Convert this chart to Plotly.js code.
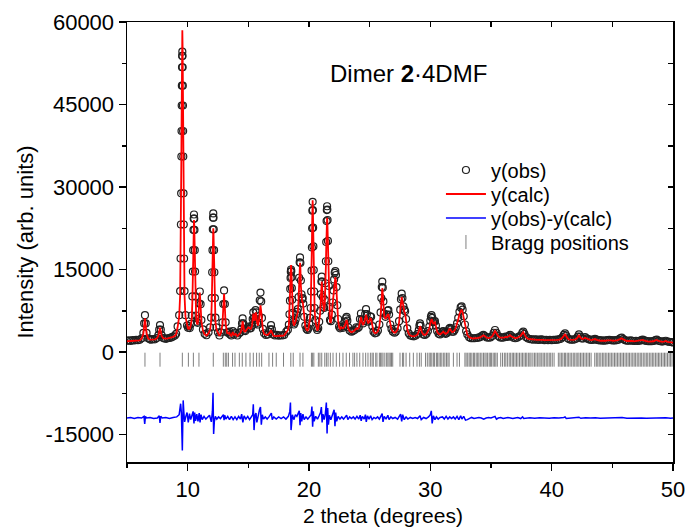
<!DOCTYPE html>
<html><head><meta charset="utf-8">
<script src="https://cdn.plot.ly/plotly-3.0.1.min.js"></script>
<style>html,body{margin:0;padding:0;background:#fff}#chart{width:688px;height:528px}</style>
</head><body><div id="chart"></div>
<script>
// 2-theta grid of the observed / calculated profile
const twoTheta = [
5.0,5.15,5.3,5.45,5.6,5.75,5.9,6.05,6.22,6.35,
6.415,6.48,6.545,6.61,6.74,6.88,7.0,7.15,7.3,7.46,
7.59,7.655,7.72,7.785,7.85,7.98,8.1,8.22,8.35,8.5,
8.65,8.8,8.95,9.05,9.17,9.3,9.38,9.417,9.443,9.463,
9.482,9.495,9.508,9.521,9.534,9.547,9.56,9.573,9.586,9.599,
9.612,9.625,9.638,9.657,9.677,9.703,9.74,9.82,9.95,10.03,
10.1,10.17,10.26,10.34,10.39,10.43,10.455,10.481,10.5,10.52,
10.54,10.559,10.585,10.61,10.65,10.7,10.76,10.82,10.87,10.935,
11.0,11.065,11.13,11.26,11.4,11.55,11.72,11.85,11.93,11.98,
12.02,12.045,12.071,12.09,12.11,12.13,12.149,12.175,12.2,12.24,
12.29,12.37,12.5,12.62,12.74,12.87,12.935,13.0,13.065,13.13,
13.26,13.36,13.44,13.5,13.6,13.72,13.82,13.95,14.1,14.25,
14.35,14.43,14.48,14.53,14.58,14.65,14.75,14.9,15.0,15.1,
15.2,15.3,15.36,15.41,15.47,15.53,15.6,15.66,15.73,15.8,
15.88,15.94,16.0,16.06,16.12,16.2,16.3,16.45,16.6,16.72,
16.8,16.87,16.94,17.05,17.2,17.35,17.5,17.65,17.8,17.95,
18.13,18.26,18.34,18.39,18.43,18.455,18.481,18.5,18.52,18.54,
18.559,18.585,18.61,18.65,18.7,18.76,18.83,18.9,18.96,19.02,
19.08,19.14,
19.19,19.23,19.26,19.29,19.33,19.38,19.44,19.48,19.53,19.6,
19.7,19.8,19.88,19.95,20.02,20.08,20.14,20.18,20.21,20.24,
20.26,20.28,20.3,20.32,20.34,20.36,20.39,20.42,20.46,20.52,
20.6,20.68,20.76,20.84,20.92,20.98,21.02,21.05,21.08,21.13,
21.19,21.25,21.3,21.35,21.39,21.42,21.45,21.47,21.49,21.51,
21.53,21.56,21.59,21.63,21.68,21.73,21.8,21.88,21.95,22.02,
22.07,22.12,22.17,22.22,22.27,22.33,22.4,22.48,22.56,22.64,
22.8,22.92,23.0,23.05,23.1,23.16,23.24,23.35,23.5,23.62,
23.75,23.9,24.0,24.1,24.2,24.28,24.36,24.45,24.55,24.63,
24.7,24.77,24.87,24.97,25.05,25.12,25.22,25.32,25.44,25.56,
25.68,25.8,25.9,25.96,26.0,26.04,26.08,26.13,26.2,26.3,
26.4,26.48,26.54,26.6,26.7,26.8,26.92,27.05,27.15,27.3,
27.42,27.52,27.58,27.64,27.7,27.78,27.86,27.92,28.0,28.1,
28.22,28.35,28.5,28.65,28.8,28.95,29.05,29.1,29.15,29.2,
29.3,29.42,29.55,29.68,29.8,29.92,30.0,30.05,30.1,30.16,
30.24,30.32,30.38,30.46,30.56,30.68,30.8,30.92,31.0,31.07,
31.15,31.25,31.35,31.45,31.55,31.62,31.7,31.8,31.9,32.0,
32.1,32.2,32.3,32.4,32.5,32.58,32.66,32.75,32.85,32.95,
33.05,33.2,33.35,33.5,33.65,33.8,33.95,34.1,34.25,34.37,
34.5,34.65,34.8,34.95,35.1,35.22,35.33,35.45,35.6,35.75,
35.9,36.05,36.2,36.35,36.45,36.57,36.7,36.85,37.0,37.15,
37.3,37.45,37.58,37.66,37.75,37.9,38.05,38.2,38.35,38.5,
38.65,38.8,38.95,39.1,39.25,39.4,39.55,39.7,39.85,40.0,
40.15,40.3,40.45,40.6,40.75,40.9,41.0,41.1,41.2,41.32,
41.45,41.6,41.75,41.9,42.05,42.15,42.25,42.35,42.48,42.6,
42.75,42.88,43.0,43.15,43.3,43.45,43.57,43.7,43.85,44.0,
44.15,44.3,44.45,44.6,44.75,44.9,45.05,45.2,45.35,45.5,
45.65,45.77,45.9,46.05,46.2,46.35,46.5,46.65,46.8,46.95,
47.1,47.25,47.4,47.5,47.65,47.8,47.95,48.1,48.25,48.4,
48.55,48.66,48.8,48.95,49.1,49.25,49.4,49.55,49.7,49.85,
50.0];

const yObs = [
2050,2100,2000,2150,2100,2200,2150,2250,2500,3460,
5200,6700,5200,3460,2500,2300,2250,2350,2300,2530,
3060,4060,4900,4060,3060,2530,2450,2400,2500,2550,
2650,2800,3000,3300,4650,6700,11080,17000,23180,28850,
35550,40180,44820,48420,51770,53830,54600,53830,51770,48420,
44820,40180,35550,28850,23180,17000,11080,6700,4800,4400,
4700,4350,5100,6640,10100,14630,18520,22190,24240,25000,
24240,22190,18520,14630,10100,6640,5500,5300,6000,8850,
11000,8700,5800,4100,3300,3050,3570,4460,6250,9810,
14500,18510,22300,24420,25200,24420,22300,18510,14500,9810,
6250,4460,3570,3000,3560,5390,8710,11200,8710,5390,
3560,3500,3700,3200,3000,3800,3200,3500,3000,3400,
3600,4200,5200,6100,5200,3900,3800,4300,4600,4300,
4300,4800,6000,7200,6200,5800,7600,7200,5300,5000,
6500,9400,10800,9200,6200,4200,3400,3100,3200,3600,
4100,4900,4100,3200,3000,3100,2950,3050,3000,3100,
3700,4030,4970,6860,9340,11460,13470,14590,15000,14700,
13600,11600,9500,7100,5500,5000,5300,5900,6800,7300,
7800,10000,
13500,16300,17200,16200,13000,10500,9600,9800,8800,6400,
4800,4200,4000,4300,5200,6200,8000,11000,14800,19000,
22500,25700,27300,25800,22600,19200,14900,11000,8000,5800,
4400,4000,4300,5500,7500,10500,12800,13700,12800,10000,
8200,8000,9500,12500,16500,20000,23800,25800,26500,25900,
24000,20200,16500,12000,8200,5800,5600,6800,9000,11200,
13200,14400,14700,14000,11800,8500,6000,4600,4300,4600,
4400,4700,5500,6100,6400,5700,4500,3900,3700,3800,
4000,4500,4300,4500,6000,7000,5900,5200,5600,6900,
7800,6900,5500,5700,6500,6400,4700,3700,3400,3500,
3900,5000,7200,9800,11800,12800,11700,9200,7000,6400,
6800,7500,7600,6800,5000,4200,3700,3500,3700,4300,
5600,7700,9600,10600,9800,8300,7700,7400,6000,4300,
3400,3000,2900,2850,3000,3300,4000,4800,5200,4800,
3700,3200,3100,3300,3800,4600,5700,6400,6700,6200,
5400,5500,5600,4800,3800,3300,3200,3400,3700,3800,
3500,3300,3400,3700,4200,4400,4100,3700,3700,4000,
4500,5200,6200,7300,8100,8300,7700,6500,5000,3800,
3200,2700,2500,2500,2500,2550,2600,2700,2950,3100,
2900,2650,2600,2650,2900,3500,4000,3500,2900,2650,
2600,2650,2800,2750,2900,3100,2850,2600,2500,2600,
2800,3000,3500,3700,3300,2700,2450,2350,2300,2250,
2300,2250,2200,2300,2250,2150,2200,2150,2200,2150,
2200,2200,2250,2300,2400,2700,3100,3400,3000,2500,
2300,2250,2250,2300,2450,2800,3200,2800,2450,2450,
2700,2500,2350,2250,2200,2250,2400,2250,2150,2100,
2100,2050,2100,2150,2200,2150,2100,2100,2150,2250,
2500,2600,2350,2150,2050,2050,2100,2050,2000,2050,
2000,2050,2150,2250,2100,2000,1950,1950,1950,2000,
2150,2250,2050,1950,1900,1950,2050,1900,1850,1800,
1750];

const yCalc = [
1950,1980,2000,2020,2050,2080,2100,2130,2470,3290,
4800,6100,4800,3290,2470,2250,2250,2270,2290,2500,
2950,3790,4400,3790,2950,2500,2400,2420,2460,2530,
2620,2760,2950,3250,4490,6420,10300,16060,22320,28470,
35730,40770,46310,50860,54900,57560,58500,57560,54900,50860,
46310,40770,35730,28470,22320,16060,10300,6420,4550,4150,
4400,4150,4850,6080,9370,13700,17410,21160,23180,24000,
23180,21160,17410,13700,9370,6230,5200,5000,5770,8600,
10800,8500,5550,3900,3200,3000,3390,4080,5450,8580,
12700,16230,19800,21720,22500,21720,19800,16230,12700,8580,
5450,4080,3390,2950,3440,5060,8060,10600,8060,5060,
3440,3350,3500,3100,2950,3600,3100,3300,2900,3300,
3500,4000,4900,5600,4900,3800,3700,4300,4500,4300,
4200,4700,5800,7000,6000,5700,7200,6800,5200,4800,
5800,7600,8500,7400,5400,4000,3300,3100,3100,3400,
3600,4000,3600,3000,2900,2950,2900,2950,2950,3000,
3600,3960,4840,6850,9500,11770,14060,15300,15800,15400,
14100,11850,9600,7000,5300,4800,5100,5600,6300,6800,
7200,9500,
12600,15400,16200,15300,12000,9600,9000,9200,8200,6000,
4600,4000,3900,4200,5100,6000,7900,10800,14600,19500,
23300,26200,27600,26200,23300,19500,14600,10800,7900,5700,
4300,3900,4200,5300,7000,9800,12000,12800,12000,9300,
7600,7400,8800,11500,15500,19000,22200,23800,24400,23900,
22300,19000,15500,11200,7800,5500,5400,6600,8800,10600,
12400,13400,13600,13000,11000,8000,5700,4500,4200,4500,
4300,4600,5100,5600,5800,5300,4300,3800,3600,3700,
3900,4300,4200,4400,5600,6400,5500,4900,5300,6200,
6800,6200,5200,5500,6100,6000,4600,3700,3400,3500,
3800,4700,6600,8900,10700,11600,10600,8400,6500,6000,
6400,6900,6900,6300,4800,4100,3700,3500,3600,4100,
5300,7400,9100,10000,9300,7900,7300,7000,5700,4100,
3300,3000,2900,2850,2950,3200,3800,4400,4700,4400,
3600,3200,3100,3300,3700,4300,5200,5800,6000,5700,
5100,5300,5400,4700,3700,3300,3200,3400,3600,3700,
3500,3300,3400,3600,4100,4200,3900,3600,3700,3900,
4400,5000,5900,6900,7500,7700,7200,6100,4800,3700,
3100,2700,2500,2450,2500,2500,2550,2650,2900,3050,
2850,2600,2550,2600,2850,3400,3800,3400,2850,2600,
2600,2600,2750,2700,2850,3050,2800,2600,2500,2550,
2750,2950,3400,3600,3200,2650,2400,2350,2300,2200,
2250,2200,2200,2250,2200,2150,2150,2100,2150,2100,
2150,2150,2200,2250,2350,2650,3000,3200,2900,2450,
2250,2200,2200,2250,2400,2700,3000,2700,2400,2400,
2600,2450,2300,2200,2150,2200,2350,2200,2100,2050,
2050,2000,2050,2100,2150,2100,2050,2050,2100,2200,
2450,2500,2300,2100,2000,2000,2050,2000,1950,2000,
1950,2000,2100,2200,2050,1950,1900,1900,1900,1950,
2100,2200,2000,1900,1850,1900,2000,1850,1800,1750,
1700];

// difference curve y(obs)-y(calc)
const diffTheta = [
5.0,5.3,5.6,5.9,6.2,6.4,6.46,6.52,6.6,6.9,
7.2,7.5,7.66,7.72,7.78,7.9,8.2,8.5,8.8,9.1,
9.3,9.42,9.48,9.53,9.56,9.59,9.63,9.68,9.75,9.85,
9.95,10.05,10.15,10.25,10.35,10.45,10.52,10.58,10.65,10.75,
10.85,10.95,11.02,11.1,11.2,11.35,11.5,11.65,11.8,11.95,
12.04,12.09,12.14,12.2,12.28,12.4,12.55,12.7,12.85,12.95,
13.0,13.05,13.15,13.3,13.45,13.6,13.75,13.9,14.05,14.2,
14.35,14.45,14.55,14.65,14.8,14.95,15.1,15.25,15.36,15.41,
15.47,15.55,15.63,15.7,15.8,15.92,16.0,16.07,16.15,16.25,
16.4,16.55,16.7,16.82,16.9,16.97,17.1,17.3,17.5,17.7,
17.9,18.1,18.3,18.42,18.47,18.52,18.57,18.63,18.75,18.88,
19.0,19.12,19.2,19.26,19.32,19.4,19.5,19.6,19.75,19.9,
20.05,20.18,20.24,20.3,20.36,20.42,20.55,20.7,20.85,20.95,
21.02,21.08,21.15,21.25,21.35,21.43,21.49,21.54,21.6,21.68,
21.8,21.95,22.07,22.14,22.2,22.28,22.4,22.55,22.7,22.85,
23.0,23.1,23.2,23.35,23.5,23.65,23.8,23.95,24.1,24.22,
24.3,24.4,24.55,24.65,24.72,24.82,24.95,25.08,25.2,25.35,
25.5,25.65,25.8,25.95,26.03,26.1,26.2,26.35,26.5,26.6,
26.75,26.9,27.1,27.3,27.45,27.55,27.64,27.72,27.85,28.0,
28.15,28.35,28.55,28.75,28.95,29.08,29.15,29.25,29.45,29.65,
29.85,30.0,30.08,30.15,30.25,30.38,30.5,30.65,30.8,31.0,
31.15,31.3,31.45,31.6,31.75,31.9,32.05,32.2,32.35,32.5,
32.6,32.75,32.9,33.05,33.2,33.4,33.6,33.8,34.0,34.2,
34.4,34.6,34.8,35.0,35.2,35.33,35.45,35.6,35.8,36.0,
36.2,36.4,36.6,36.8,37.0,37.2,37.45,37.6,37.7,37.9,
38.2,38.6,39.0,39.4,39.8,40.2,40.6,41.0,41.1,41.2,
41.6,42.0,42.25,42.4,42.8,43.2,43.6,44.0,44.4,44.8,
45.2,45.6,45.8,46.2,46.6,47.0,47.4,47.8,48.2,48.6,
49.0,49.4,49.8,50.0];

const yDiff = [
0,100,-100,100,0,300,-1100,300,0,100,
-100,0,400,-900,300,0,100,-100,100,200,
600,2600,1000,-3000,-5900,-2000,3200,1200,-700,300,
1000,-800,800,-300,400,1200,-1000,1000,-500,700,
-600,900,-800,600,-300,300,-200,200,500,-700,
1200,4600,-2900,-600,300,-200,200,-100,300,600,
-400,500,-200,300,-300,300,-300,200,-300,300,
-200,700,-800,400,-200,300,-300,400,600,2500,
-2200,500,900,-800,400,1500,2000,-1200,600,-200,
200,-200,200,700,900,-300,200,-200,200,-100,
200,-200,300,1200,2800,-2200,-1000,600,-300,600,
300,800,1300,-1300,900,-600,700,-300,200,-200,
300,600,2100,-1600,1200,-600,300,-200,500,1000,
2000,-800,700,-300,800,2800,-2800,1800,-1200,500,
-300,600,1500,-1500,1000,-600,300,-200,200,-200,
300,500,-300,200,-100,200,-200,300,-200,500,
-500,300,-200,600,-700,400,-200,400,-300,100,
-100,200,-200,600,800,-700,300,-200,500,-300,
200,-100,100,-200,300,700,-600,600,-300,200,
-200,100,-100,100,-100,300,400,-300,100,-100,
200,600,1300,-1000,400,-300,200,-200,100,200,
-200,300,-200,200,-100,200,-200,300,-300,400,
-200,300,-400,-300,-100,100,-100,0,100,0,
-200,0,100,0,200,300,-200,0,100,-100,
0,100,0,-100,0,100,-100,200,-100,0,
50,-50,50,0,-50,50,0,100,200,-100,
0,50,150,-50,50,0,50,-50,0,50,
0,50,100,-50,0,50,0,-50,0,50,
0,50,-50,0];

// Bragg reflection positions
const braggPos = [
6.48,7.72,9.56,10.06,10.47,10.93,12.11,12.94,13.1,13.22,13.36,13.7,13.9,14.26,14.5,14.8,
15.14,15.41,15.68,15.9,16.1,16.7,17.0,17.3,17.9,18.5,18.7,19.26,19.5,20.2,20.3,20.4,20.77,20.9,
21.05,21.3,21.43,21.57,21.76,21.98,22.25,22.52,22.8,23.07,23.34,23.62,23.76,23.95,24.18,24.45,
24.67,24.86,25.06,25.2,25.3,25.5,25.6,25.8,25.9,26.0,26.1,26.25,26.4,26.5,26.6,26.7,26.8,26.9,
27.5,27.7,27.8,28.0,28.3,28.6,28.9,29.1,29.25,29.6,29.75,29.9,30.0,30.12,30.25,30.35,30.5,30.6,
30.72,30.85,30.95,31.1,31.2,31.33,31.45,31.55,31.9,32.2,32.4,32.85,32.95,33.08,33.2,33.3,33.42,
33.55,33.65,33.78,33.9,34.0,34.12,34.25,34.38,34.5,34.6,34.72,34.85,34.95,35.05,35.18,35.3,35.4,
35.52,35.8,35.95,36.1,36.22,36.35,36.5,36.62,36.75,36.85,36.98,37.1,37.22,37.35,37.48,37.6,37.72,
37.85,37.95,38.08,38.2,38.3,38.45,38.58,38.7,38.82,38.95,39.05,39.18,39.3,39.42,39.55,39.68,39.8,
39.92,40.05,40.2,40.55,40.68,40.8,40.92,41.05,41.15,41.28,41.4,41.52,41.65,41.78,41.9,42.02,42.15,
42.25,42.38,42.5,42.62,42.75,42.88,43.0,43.12,43.25,43.55,43.68,43.8,43.92,44.05,44.18,44.3,44.42,
44.55,44.68,44.8,44.92,45.05,45.18,45.3,45.42,45.55,45.68,45.8,45.92,46.05,46.18,46.3,46.42,46.55,
46.68,46.8,46.92,47.05,47.18,47.3,47.42,47.55,47.68,47.8,47.92,48.05,48.18,48.3,48.42,48.55,48.68,
48.8,48.92,49.05,49.18,49.3,49.42,49.55,49.68,49.8,49.92];

const yTickVals = [-15000, 0, 15000, 30000, 45000, 60000];
const yTickText = ['-15000', '0', '15000', '30000', '45000', '60000'];

const diffOffset = -12000;   // vertical offset of the difference curve
const braggLevel = -1400;    // vertical level of the Bragg tick row

if (twoTheta.length !== yObs.length || twoTheta.length !== yCalc.length || diffTheta.length !== yDiff.length) {
  console.error('length mismatch', twoTheta.length, yObs.length, yCalc.length, diffTheta.length, yDiff.length);
}

const FONT = '"Liberation Sans", Arial, sans-serif';
const AX = '#000000';

const traces = [
  {type:'scatter', mode:'markers', name:'y(obs)', x:twoTheta, y:yObs, legend:'legend',
   marker:{symbol:'circle-open', size:7, color:'#202020', line:{width:1.2}}},
  {type:'scatter', mode:'lines', name:'y(calc)', x:twoTheta, y:yCalc, legend:'legend2',
   line:{color:'#ff0000', width:1.8}},
  {type:'scatter', mode:'lines', name:'y(obs)-y(calc)', x:diffTheta, y:yDiff.map(v => v + diffOffset), legend:'legend3',
   line:{color:'#0000ff', width:1.5}},
  {type:'scatter', mode:'markers', name:'Bragg positions', x:braggPos, y:braggPos.map(() => braggLevel), legend:'legend4',
   marker:{symbol:'line-ns-open', size:10, color:'#808080', line:{color:'#808080', width:1}}},
  {type:'scatter', mode:'markers', x:[], y:[], xaxis:'x2', yaxis:'y2', showlegend:false, hoverinfo:'skip'}
];

function legendAt(ypx) {
  return {x:0.575, y:1 - (ypx - 22) / 440, xanchor:'left', yanchor:'middle', bgcolor:'rgba(0,0,0,0)',
          font:{family:FONT, size:20, color:'#000'}, itemwidth:40};
}

const layout = {
  width:688, height:528,
  margin:{l:127, r:15, t:22, b:66, pad:0},
  paper_bgcolor:'#ffffff', plot_bgcolor:'#ffffff',
  font:{family:FONT, size:22, color:'#000'},
  showlegend:true,
  legend:legendAt(170),
  legend2:legendAt(194),
  legend3:legendAt(218),
  legend4:legendAt(242),
  xaxis:{range:[5,50], tickmode:'linear', tick0:0, dtick:10,
         ticks:'outside', ticklen:7, tickwidth:1.5, tickcolor:AX,
         showline:true, linewidth:1.5, linecolor:AX, showgrid:false, zeroline:false,
         minor:{tickmode:'linear', tick0:0, dtick:5, ticks:'outside', ticklen:4, tickwidth:1.5, tickcolor:AX, showgrid:false},
         tickfont:{family:FONT, size:22, color:'#000'},
         automargin:false},
  yaxis:{range:[-20000,60000], tickmode:'array', tickvals:yTickVals, ticktext:yTickText,
         ticks:'outside', ticklen:7, tickwidth:1.5, tickcolor:AX,
         showline:true, linewidth:1.5, linecolor:AX, showgrid:false, zeroline:false,
         minor:{tickmode:'linear', tick0:0, dtick:7500, ticks:'outside', ticklen:4, tickwidth:1.5, tickcolor:AX, showgrid:false},
         tickfont:{family:FONT, size:22, color:'#000'},
         title:{text:'Intensity (arb. units)', standoff:6, font:{family:FONT, size:22, color:'#000'}},
         automargin:false},
  xaxis2:{overlaying:'x', side:'top', anchor:'y2', range:[5,50], tickmode:'linear', tick0:0, dtick:5,
          ticks:'inside', ticklen:5, tickwidth:1.5, tickcolor:AX, showticklabels:false,
          showline:true, linewidth:1.5, linecolor:AX, showgrid:false, zeroline:false},
  yaxis2:{overlaying:'y', side:'right', anchor:'x2', range:[-20000,60000], tickmode:'linear', tick0:0, dtick:7500,
          ticks:'inside', ticklen:5, tickwidth:1.5, tickcolor:AX, showticklabels:false,
          showline:true, linewidth:1.5, linecolor:AX, showgrid:false, zeroline:false},
  annotations:[
    {xref:'paper', yref:'paper', x:0.368, y:0.884, xanchor:'left', yanchor:'middle',
     text:'Dimer <b>2</b>·4DMF', showarrow:false, font:{family:FONT, size:24, color:'#000'}},
    {xref:'paper', yref:'paper', x:0.469, y:-0.1227, xanchor:'center', yanchor:'middle',
     text:'2 theta (degrees)', showarrow:false, font:{family:FONT, size:21, color:'#000'}}
  ]
};

Plotly.newPlot('chart', traces, layout, {staticPlot:true, displayModeBar:false});
</script>
</body></html>
